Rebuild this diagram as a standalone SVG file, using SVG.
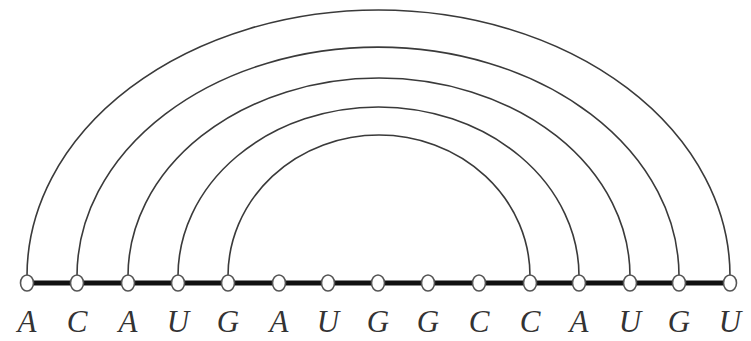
<svg xmlns="http://www.w3.org/2000/svg" width="751" height="341" viewBox="0 0 751 341">
<style>
.arc{fill:none;stroke:#3a3a3a;stroke-width:1.6}
.bb{stroke:#111;stroke-width:5}
.nd{fill:#fff;stroke:#555;stroke-width:1.6}
.lb{font-family:"Liberation Serif","Times New Roman",serif;font-style:italic;font-size:31px;fill:#333;text-anchor:middle}
</style>
<rect width="751" height="341" fill="#fff"/>
<g id="connectors">
<line class="bb" x1="27" y1="283" x2="730" y2="283"/>
<path class="arc" d="M27,276 A351.5,266 0 0 1 730,276"/>
<path class="arc" d="M77,276 A301,229 0 0 1 679,276"/>
<path class="arc" d="M128,276 A251,198 0 0 1 630,276"/>
<path class="arc" d="M178,276 A200.5,169 0 0 1 579,276"/>
<path class="arc" d="M228,276 A151,141 0 0 1 530,276"/>
</g>
<g id="n1"><ellipse class="nd" cx="27" cy="283" rx="6.5" ry="8"/><text class="lb" x="27" y="332">A</text></g>
<g id="n2"><ellipse class="nd" cx="77" cy="283" rx="6.5" ry="8"/><text class="lb" x="77" y="332">C</text></g>
<g id="n3"><ellipse class="nd" cx="128" cy="283" rx="6.5" ry="8"/><text class="lb" x="128" y="332">A</text></g>
<g id="n4"><ellipse class="nd" cx="178" cy="283" rx="6.5" ry="8"/><text class="lb" x="178" y="332">U</text></g>
<g id="n5"><ellipse class="nd" cx="228" cy="283" rx="6.5" ry="8"/><text class="lb" x="228" y="332">G</text></g>
<g id="n6"><ellipse class="nd" cx="279" cy="283" rx="6.5" ry="8"/><text class="lb" x="279" y="332">A</text></g>
<g id="n7"><ellipse class="nd" cx="328" cy="283" rx="6.5" ry="8"/><text class="lb" x="328" y="332">U</text></g>
<g id="n8"><ellipse class="nd" cx="378" cy="283" rx="6.5" ry="8"/><text class="lb" x="378" y="332">G</text></g>
<g id="n9"><ellipse class="nd" cx="428" cy="283" rx="6.5" ry="8"/><text class="lb" x="428" y="332">G</text></g>
<g id="n10"><ellipse class="nd" cx="479" cy="283" rx="6.5" ry="8"/><text class="lb" x="479" y="332">C</text></g>
<g id="n11"><ellipse class="nd" cx="530" cy="283" rx="6.5" ry="8"/><text class="lb" x="530" y="332">C</text></g>
<g id="n12"><ellipse class="nd" cx="579" cy="283" rx="6.5" ry="8"/><text class="lb" x="579" y="332">A</text></g>
<g id="n13"><ellipse class="nd" cx="630" cy="283" rx="6.5" ry="8"/><text class="lb" x="630" y="332">U</text></g>
<g id="n14"><ellipse class="nd" cx="679" cy="283" rx="6.5" ry="8"/><text class="lb" x="679" y="332">G</text></g>
<g id="n15"><ellipse class="nd" cx="730" cy="283" rx="6.5" ry="8"/><text class="lb" x="730" y="332">U</text></g>
</svg>
